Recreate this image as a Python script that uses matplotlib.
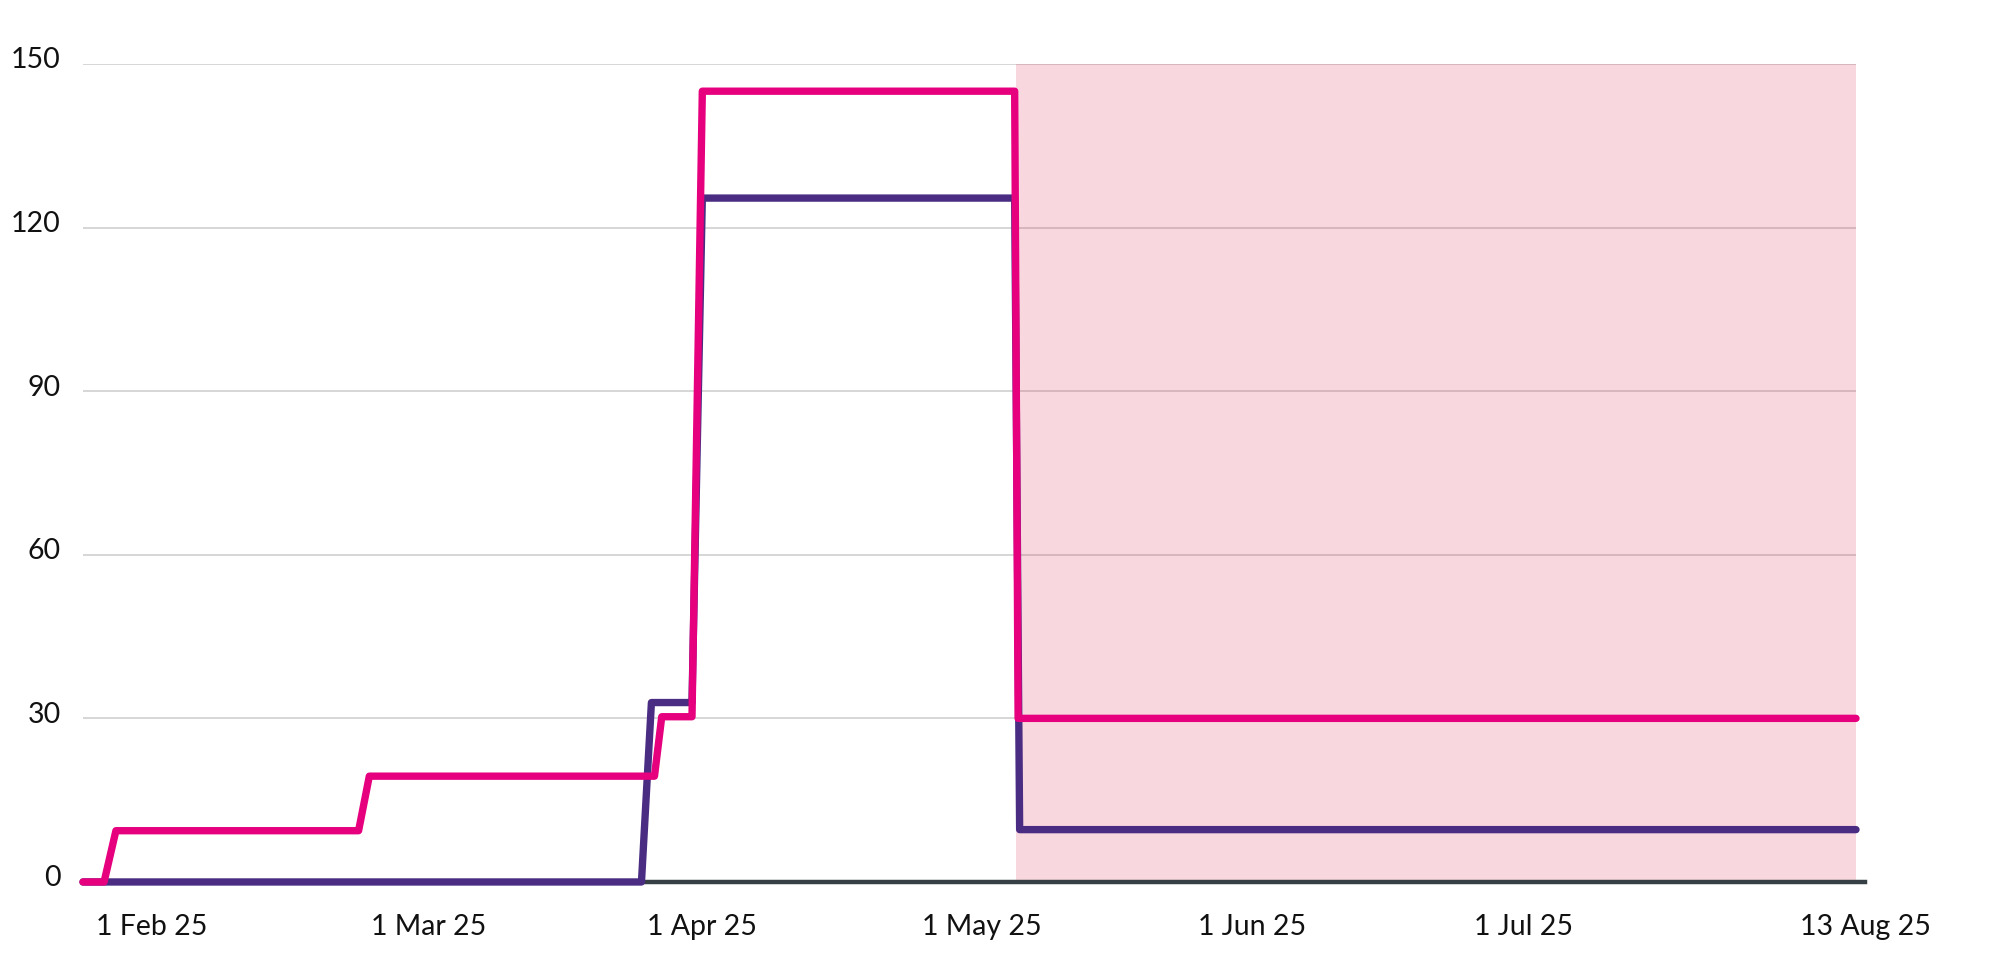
import numpy as np
import pandas as pd
import matplotlib
matplotlib.use("Agg")
import matplotlib.pyplot as plt
from matplotlib.transforms import ScaledTranslation


# breakpoints of the two step series (value changes are drawn as short ramps)
pink_dates = ["2025-02-01 00:00", "2025-02-03 07:00", "2025-02-04 14:00",
              "2025-03-03 00:00", "2025-03-04 04:00", "2025-04-04 05:00",
              "2025-04-05 00:00", "2025-04-08 07:00", "2025-04-09 10:00",
              "2025-05-13 10:00", "2025-05-13 19:00", "2025-08-13 00:00"]
pink_vals = [0, 0, 9.4, 9.4, 19.4, 19.4, 30.3, 30.3, 145, 145, 30, 30]

purple_dates = ["2025-02-01 00:00", "2025-04-02 19:00", "2025-04-03 21:00",
                "2025-04-08 07:00", "2025-04-09 10:00", "2025-05-13 10:00",
                "2025-05-13 23:00", "2025-08-13 00:00"]
purple_vals = [0, 0, 32.9, 32.9, 125.4, 125.4, 9.6, 9.6]

shade_start = "2025-05-13 14:00"
x_start = "2025-02-01"
x_end = "2025-08-13"

yticks = [0, 30, 60, 90, 120, 150]
xtick_dates = ["2025-02-01", "2025-03-03", "2025-04-02", "2025-05-02",
               "2025-06-01", "2025-07-01", "2025-08-13"]
xtick_labels = ["1 Feb 25", "1 Mar 25", "1 Apr 25", "1 May 25",
                "1 Jun 25", "1 Jul 25", "13 Aug 25"]

PINK = "#e6007e"
PURPLE = "#4a2d82"

plt.rcParams["font.family"] = ["Lato", "DejaVu Sans"]

fig = plt.figure(figsize=(20, 9.57), dpi=100)
ax = fig.add_axes([0.0415, 0.0784, 0.8865, 0.8548])

ax.axvspan(pd.Timestamp(shade_start), pd.Timestamp(x_end), color="#dc0a3c",
           alpha=0.16, lw=0, zorder=1.5)

ax.axhline(0, xmin=0, xmax=1.005, color="#353f44", lw=3.2, clip_on=False, zorder=2)

ax.plot(pd.to_datetime(purple_dates), purple_vals, color=PURPLE, lw=5.3,
        solid_capstyle="round", solid_joinstyle="round", zorder=3, clip_on=False)
ax.plot(pd.to_datetime(pink_dates), pink_vals, color=PINK, lw=5.3,
        solid_capstyle="round", solid_joinstyle="round", zorder=4, clip_on=False)

ax.set_xlim(pd.Timestamp(x_start), pd.Timestamp(x_end))
ax.set_ylim(0, 150)

ax.set_yticks(yticks)
ax.set_yticklabels([str(v) for v in yticks])
ax.grid(axis="y", color="#cccccc", lw=1.1, zorder=0.5)
ax.set_axisbelow(True)

ax.set_xticks(pd.to_datetime(xtick_dates))
ax.set_xticklabels(xtick_labels)

for s in ax.spines.values():
    s.set_visible(False)
ax.tick_params(axis="both", length=0, labelsize=20.5, colors="#111111")
ax.tick_params(axis="y", pad=16)
ax.tick_params(axis="x", pad=23)

for lab in ax.get_yticklabels():
    lab.set_transform(lab.get_transform() + ScaledTranslation(0, 0.06, fig.dpi_scale_trans))

xlabs = ax.get_xticklabels()
for lab in xlabs[:-1]:
    lab.set_horizontalalignment("left")
    lab.set_transform(lab.get_transform() + ScaledTranslation(0.127, 0, fig.dpi_scale_trans))
xlabs[-1].set_transform(xlabs[-1].get_transform() + ScaledTranslation(0.09, 0, fig.dpi_scale_trans))

fig.savefig("out.png", dpi=100, facecolor="white")
